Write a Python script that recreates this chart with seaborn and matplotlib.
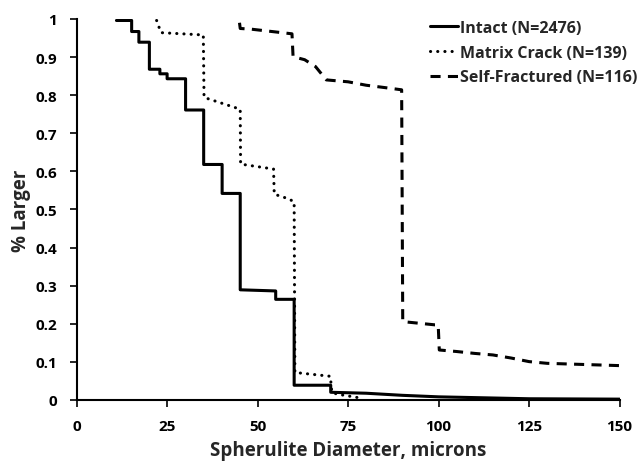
import matplotlib
matplotlib.use("Agg")
import matplotlib.pyplot as plt
import seaborn as sns
import pandas as pd

# Intact (N=2476)
intact_x = [11, 15.2, 15.2, 17.2, 17.2, 20.1, 20.1, 23, 23, 25, 25, 30.1, 30.1,
            35.1, 35.1, 40.2, 40.2, 45.2, 45.2, 55, 55, 60.1, 60.1, 70.2, 70.2,
            80, 90, 100, 115, 125, 150]
intact_y = [0.996, 0.996, 0.967, 0.967, 0.939, 0.939, 0.868, 0.868, 0.856, 0.856,
            0.843, 0.843, 0.761, 0.761, 0.618, 0.618, 0.542, 0.542, 0.289, 0.286,
            0.264, 0.264, 0.0385, 0.0385, 0.020, 0.0175, 0.012, 0.008, 0.005,
            0.003, 0.002]

# Matrix Crack (N=139)
matrix_x = [22.1, 23.3, 35.0, 35.2, 45.2, 45.3, 54.4, 54.6, 58.5, 60.1, 60.3,
            70.1, 70.5, 72, 74, 76.5, 79]
matrix_y = [0.996, 0.964, 0.958, 0.794, 0.763, 0.619, 0.606, 0.540, 0.528, 0.520,
            0.072, 0.062, 0.020, 0.015, 0.012, 0.008, 0.004]

# Self-Fractured (N=116)
self_x = [45.0, 45.2, 48.4, 59.5, 59.8, 63, 66, 69, 75, 80, 85, 89.8, 90.1,
          99.0, 99.9, 100.2, 105, 110, 115, 120, 125, 130, 140, 150]
self_y = [0.99, 0.975, 0.973, 0.961, 0.901, 0.893, 0.875, 0.840, 0.835, 0.826,
          0.820, 0.814, 0.2055, 0.197, 0.197, 0.131, 0.127, 0.122, 0.118, 0.110,
          0.1005, 0.096, 0.093, 0.090]

x_ticks = [0, 25, 50, 75, 100, 125, 150]
y_ticks = [0, 0.1, 0.2, 0.3, 0.4, 0.5, 0.6, 0.7, 0.8, 0.9, 1]
y_tick_labels = ["0", "0.1", "0.2", "0.3", "0.4", "0.5", "0.6", "0.7", "0.8", "0.9", "1"]

sns.set_style("ticks")
plt.rcParams["font.family"] = ["Open Sans", "DejaVu Sans"]
plt.rcParams["font.weight"] = "bold"

fig = plt.figure(figsize=(6.44, 4.64), dpi=100)
ax = fig.add_axes([0.119, 0.136, 0.843, 0.821])

lw = 2.2
df_i = pd.DataFrame({"x": intact_x, "y": intact_y})
df_m = pd.DataFrame({"x": matrix_x, "y": matrix_y})
df_s = pd.DataFrame({"x": self_x, "y": self_y})

sns.lineplot(data=df_i, x="x", y="y", sort=False, estimator=None, ax=ax,
             color="black", linewidth=lw, label="Intact (N=2476)")
sns.lineplot(data=df_m, x="x", y="y", sort=False, estimator=None, ax=ax,
             color="black", linewidth=lw, label="Matrix Crack (N=139)",
             linestyle=(0, (0.05, 2.3)), dash_capstyle="round")
sns.lineplot(data=df_s, x="x", y="y", sort=False, estimator=None, ax=ax,
             color="black", linewidth=lw, label="Self-Fractured (N=116)",
             linestyle=(0, (3.3, 2.4)))

ax.set_xlim(0, 150)
ax.set_ylim(0, 1)
ax.set_xticks(x_ticks)
ax.set_yticks(y_ticks)
ax.set_yticklabels(y_tick_labels)
ax.tick_params(axis="both", direction="out", length=5, width=1.2,
               labelsize=11, color="black", labelcolor="black")
ax.tick_params(axis="x", pad=9)
ax.tick_params(axis="y", pad=9)
for lab in ax.get_xticklabels() + ax.get_yticklabels():
    lab.set_fontweight("bold")
for s in ["left", "bottom"]:
    ax.spines[s].set_linewidth(1.5)
    ax.spines[s].set_color("black")
sns.despine(ax=ax)

ax.set_xlabel("Spherulite Diameter, microns", fontsize=13.5, fontweight="bold", labelpad=5)
ax.set_ylabel("% Larger", fontsize=13.5, fontweight="bold", labelpad=3)

leg = ax.legend(loc="upper right", bbox_to_anchor=(0.994, 0.962), bbox_transform=fig.transFigure,
                frameon=False, handlelength=1.75, handletextpad=0.1, labelspacing=0.55,
                prop={"weight": "bold", "size": 11.5}, borderaxespad=0.0, borderpad=0.2)

fig.savefig("out.png", dpi=100)
